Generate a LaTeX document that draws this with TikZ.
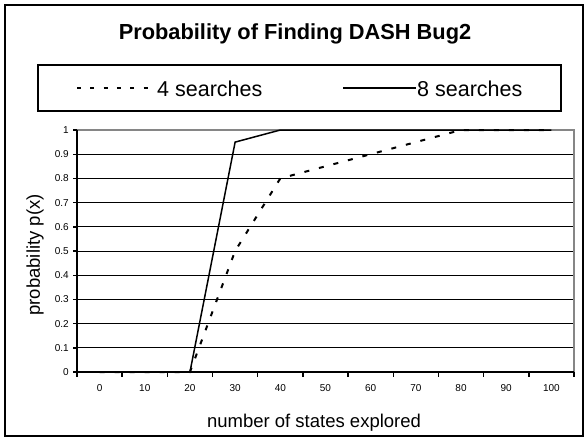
\documentclass[tikz,border=0pt]{standalone}
\usepackage{fontspec}
\setmainfont{Liberation Sans}
\definecolor{plotedge}{RGB}{134,134,134}
\begin{document}
\begin{tikzpicture}[x=1pt,y=-1pt,
  outerframe/.style={draw=black,line width=2pt},
  legendframe/.style={draw=black,line width=2.2pt},
  gridrule/.style={draw=black,line width=1pt},
  axisrule/.style={draw=black,line width=1.6pt},
  edgerule/.style={draw=plotedge,line width=2pt},
  fourline/.style={draw=black,line width=2pt,dash pattern=on 5pt off 10pt},
  eightline/.style={draw=black,line width=1.5pt},
  ticklabel/.style={font=\fontsize{10}{12}\selectfont,inner sep=0pt},
  axislabel/.style={font=\fontsize{18.5}{21}\selectfont,inner sep=0pt},
  legendlabel/.style={font=\fontsize{21.5}{24}\selectfont,inner sep=0pt,anchor=west}]
\useasboundingbox (0,0) rectangle (588,440);

% chart frame, title and legend
\draw[outerframe] (5,5) rectangle (583,436);
\node[font=\fontsize{21.8}{25}\selectfont\bfseries,inner sep=0pt] (title) at (295,34) {Probability of Finding DASH Bug2};
\draw[legendframe] (38,65) rectangle (561,111);
\draw[fourline,line width=1.6pt,dash pattern=on 4pt off 9.3pt] (77,88) -- (156,88);
\node[legendlabel] (leg4) at (157,89) {4 searches};
\draw[eightline,line width=1.2pt] (343,88) -- (416,88);
\node[legendlabel] (leg8) at (417,89) {8 searches};

% plot area: categories 0..100 step 10, probability 0..1
\begin{scope}[shift={(77,372)},x=45.18pt,y=242pt]
  \foreach \v in {0.1,0.2,...,0.95}
    \draw[gridrule] (0,\v) -- (11,\v);
  \draw[edgerule] (0,1) -- (11,1) -- (11,0);
  \draw[axisrule] (0,1) -- (0,0) -- (11,0);
  \foreach \k in {0,...,11}
    \draw[axisrule,line width=1.4pt] (\k,0) -- ++(0,-0.022);
  \foreach \v in {0,0.1,0.2,...,0.95}
    \draw[axisrule,line width=1.4pt] (0,\v) -- ++(-0.09,0);
  \draw[axisrule,line width=1.4pt] (0,1) -- ++(-0.09,0);
  \foreach \k [count=\i from 0] in {0,10,...,100}
    \node[ticklabel] (xl\k) at (\i+0.5,-0.066) {\k};
  \foreach \v/\t in {0/0,0.1/0.1,0.2/0.2,0.3/0.3,0.4/0.4,0.5/0.5,0.6/0.6,0.7/0.7,0.8/0.8,0.9/0.9,1/1}
    \node[ticklabel,anchor=east] (yl\t) at (-0.18,\v) {\t};
  % 8 searches
  \draw[eightline] (0.5,0) -- (1.5,0) -- (2.5,0) -- (3.5,0.95) -- (4.5,1)
    -- (5.5,1) -- (6.5,1) -- (7.5,1) -- (8.5,1) -- (9.5,1) -- (10.5,1);
  % 4 searches
  \draw[fourline] (0.5,0) -- (1.5,0) -- (2.5,0) -- (3.5,0.5) -- (4.5,0.8)
    -- (5.5,0.85) -- (6.5,0.9) -- (7.5,0.95) -- (8.5,1) -- (9.5,1) -- (10.5,1);
\end{scope}

% axis titles
\node[axislabel] (xtitle) at (314,423) {number of states explored};
\node[axislabel,rotate=90] (ytitle) at (35,255) {probability p(x)};
\end{tikzpicture}
\end{document}
